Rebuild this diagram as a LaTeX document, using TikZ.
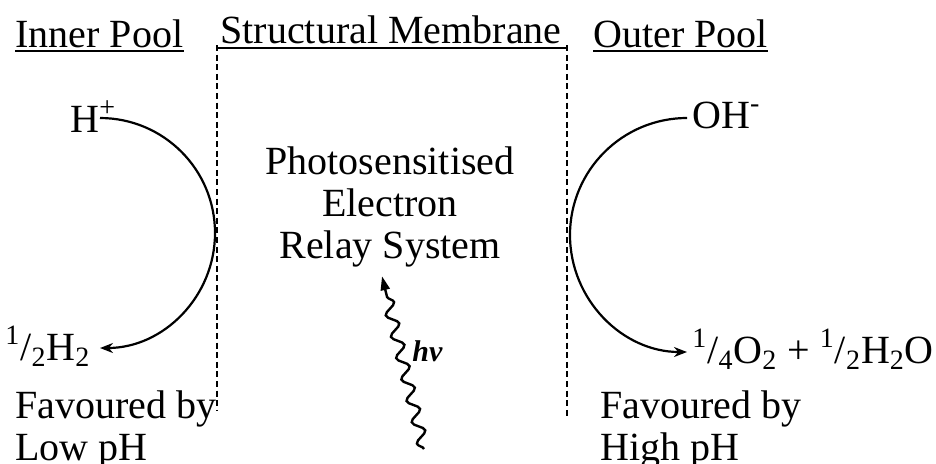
\documentclass[tikz,border=0pt]{standalone}
\usepackage{fontspec}
\setmainfont{Liberation Serif}
\usetikzlibrary{arrows.meta,decorations.pathmorphing,positioning}

\begin{document}
\begin{tikzpicture}[x=0.5pt,y=-0.5pt,
  lbl/.style={inner sep=0pt, font=\fontsize{20}{21}\selectfont},
  uline/.style={line width=1pt},
  memb/.style={dash pattern=on 3pt off 1.8pt, line width=1pt},
  arr/.style={-{Stealth[length=6.5pt,width=5pt]}, line width=1.1pt},
  wave/.style={-{Triangle[length=7pt,width=4.5pt]}, line width=1.2pt, decorate,
               decoration={snake, amplitude=2.8pt, segment length=11pt,
                           post length=6pt}}
]
  \useasboundingbox (0,0) rectangle (936,463);

  %% Headings
  \node[lbl, anchor=base west] (inner) at (15,47)  {Inner Pool};
  \node[lbl, anchor=base]      (memb)  at (391,43) {Structural Membrane};
  \node[lbl, anchor=base west] (outer) at (593,47) {Outer Pool};
  \draw[uline] ([yshift=-2pt]inner.base west) -- ([yshift=-2pt]inner.base east);
  \draw[uline] ([yshift=-2pt]outer.base west) -- ([yshift=-2pt]outer.base east);

  %% Membrane walls
  \coordinate (mtl) at (217,48);
  \coordinate (mtr) at (567,48);
  \coordinate (mbl) at (217,410);
  \coordinate (mbr) at (567,417);
  \draw[uline] (mtl) -- (mtr);
  \draw[memb] ([yshift=1.5pt]mtl) -- (mbl);
  \draw[memb] ([yshift=1.5pt]mtr) -- (mbr);

  %% Inner pool
  \node[lbl, anchor=base west] (hp) at (70,132) {H\textsuperscript{+}};
  \node[lbl, anchor=base west] (hh) at (5,360)
    {\textsuperscript{1}/\textsubscript{2}H\textsubscript{2}};
  \coordinate (hs) at (100,118);
  \draw[arr] (hs) arc[start angle=90, end angle=-90, radius=57.5pt];
  \node[lbl, anchor=north west, align=left] (lowph) at (15,390)
    {Favoured by\\Low pH};

  %% Outer pool
  \node[lbl, anchor=base west] (oh) at (692,128) {OH\textsuperscript{-}};
  \node[lbl, anchor=base west] (ox) at (692,363)
    {\textsuperscript{1}/\textsubscript{4}O\textsubscript{2} +
     \textsuperscript{1}/\textsubscript{2}H\textsubscript{2}O};
  \coordinate (os) at (687,118);
  \draw[arr] (os) arc[start angle=90, end angle=270, radius=58.5pt];
  \node[lbl, anchor=north west, align=left] (highph) at (600,390)
    {Favoured by\\High pH};

  %% Relay system and light
  \node[lbl, anchor=north, align=center] (relay) at (390,146)
    {Photosensitised\\Electron\\Relay System};
  \node[inner sep=0pt, anchor=base west,
        font=\fontsize{15}{15}\selectfont\bfseries\itshape] (hv) at (412,361) {hv};
  \coordinate (src) at (424,449);
  \draw[wave] (src) -- ([xshift=-4pt,yshift=-4.5pt]relay.south);
\end{tikzpicture}
\end{document}
